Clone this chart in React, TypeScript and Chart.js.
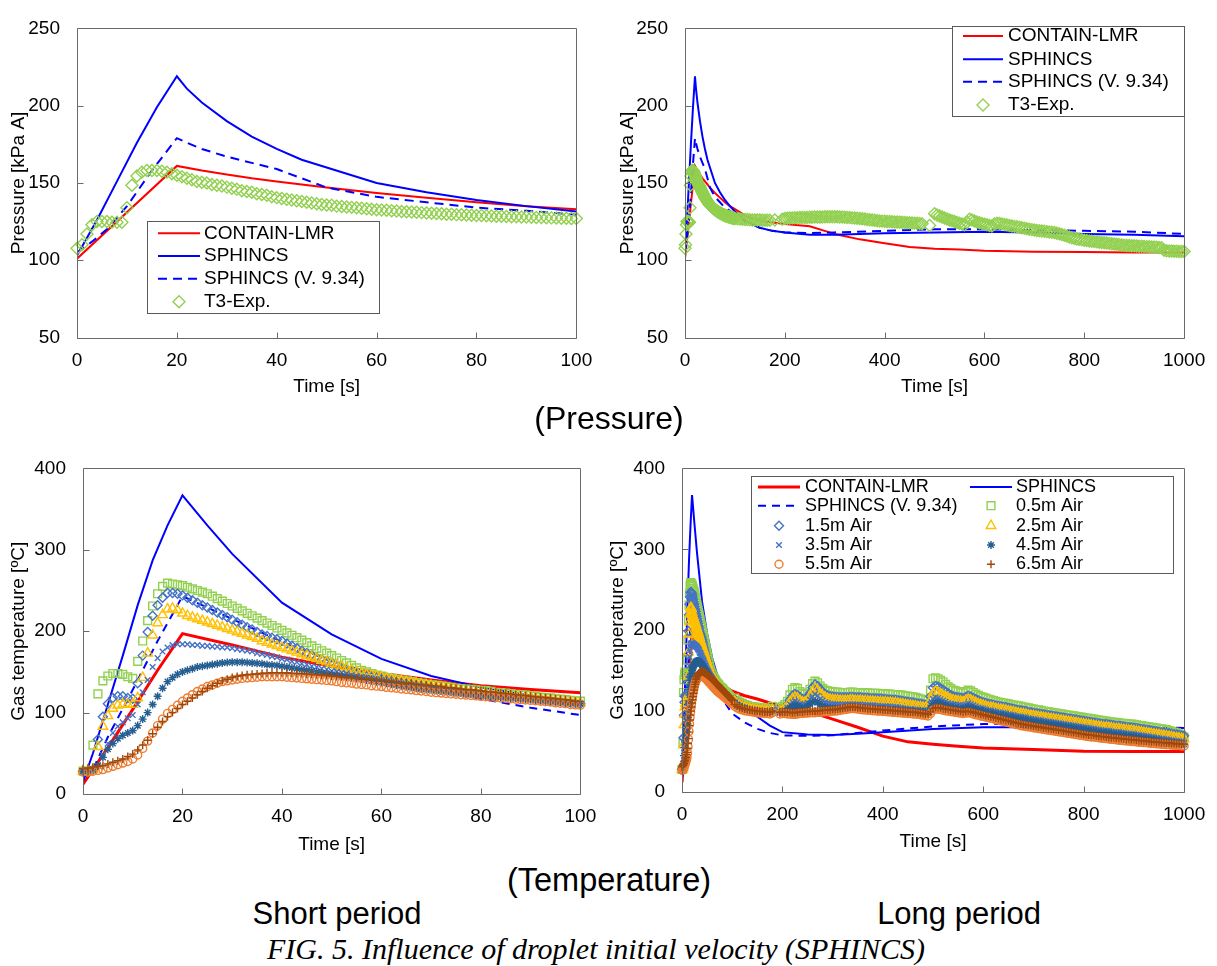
import React, { useEffect, useRef } from "react";
import { Chart, registerables } from "chart.js";
import { drawPoint } from "chart.js/helpers";

Chart.register(...registerables);

const FONT = "'Liberation Sans', Arial, sans-serif";

// ---------- time grids ----------
const T_SHORT = [0,1,2,3,4,5,6,7,8,9,10,11,12,13,14,15,16,17,18,19,20,21,22,23,24,25,26,27,28,29,30,31,32,33,34,35,36,37,38,39,40,41,42,43,44,45,46,47,48,49,50,51,52,53,54,55,56,57,58,59,60,61,62,63,64,65,66,67,68,69,70,71,72,73,74,75,76,77,78,79,80,81,82,83,84,85,86,87,88,89,90,91,92,93,94,95,96,97,98,99,100];
const T_TAIL = [105,110,115,120,125,130,135,140,145,150,155,160,165,170,175,180,185,190,195,200,
  205,210,215,220,225,230,235,240,245,250,255,260,265,270,275,280,285,290,295,300,
  305,310,315,320,325,330,335,340,345,350,355,360,365,370,375,380,385,390,395,400,
  405,410,415,420,425,430,435,440,445,450,455,460,465,470,475,480,485,490,495,500,
  505,510,515,520,525,530,535,540,545,550,555,560,565,570,575,580,585,590,595,600,
  605,610,615,620,625,630,635,640,645,650,655,660,665,670,675,680,685,690,695,700,
  705,710,715,720,725,730,735,740,745,750,755,760,765,770,775,780,785,790,795,800,
  805,810,815,820,825,830,835,840,845,850,855,860,865,870,875,880,885,890,895,900,
  905,910,915,920,925,930,935,940,945,950,955,960,965,970,975,980,985,990,995,1000];

// ---------- pressure (kPa A) ----------
const P_RED_T = [0,20,25,30,35,40,45,50,60,70,80,90,100,125,150,200,250,275,300,350,400,450,500,550,600,700,800,900,1000];
const P_RED_V = [101,161,158,155.5,153,151,149,147,143.5,140.5,137.5,135,133,128,125.5,123.5,122,119.5,117,113.5,111,108.5,107.5,107,106.2,105.5,105.3,105,105];
const P_BLUE_T = [0,4,8,12,16,20,22,25,30,35,40,45,50,60,70,80,90,100,125,150,175,200,250,300,400,500,600,700,800,900,1000];
const P_BLUE_V = [103,126,151,176,199,219,211,202,190,180,172,165,160,150,144,139,135,131.5,125,121,119,118,116.5,116.5,117.5,118,118.5,118,117,116.5,115.5];
const P_DASH_T = [0,3,6,10,15,20,22,25,30,35,40,45,50,55,60,70,80,90,100,125,150,175,200,250,300,400,500,600,700,800,900,1000];
const P_DASH_V = [105,112,120,135,158,179,176,172,167,163,159,153,147,144,141,137.5,134,132,129.5,124.5,121,119,118,117.5,118,119,120,120,119.5,119,118.5,117];

const P_EXP_SHORT = [107.7,110,117,123,125,125,125,124.5,124.5,124.5,134,
  148.5,154.5,157,158,158,158,157.5,157,156,155,
  154,153,152,151,150.5,150,149,148.5,148,147.3,
  146.5,146,145,144.5,144,143,142.5,142,141,140.5,
  140,139.5,139,138.5,138,137.5,137,136.5,136,135.8,
  135.5,135,134.8,134.5,134.2,134,133.6,133.3,133,132.7,
  132.5,132.3,132,131.8,131.6,131.4,131.2,131,130.8,130.6,
  130.4,130.2,130,129.8,129.7,129.5,129.4,129.2,129.1,129,
  128.9,128.7,128.6,128.5,128.4,128.3,128.2,128.1,128,127.9,
  127.8,127.7,127.6,127.5,127.4,127.3,127.2,127.1,127,127];
const P_EXP_TAIL = [126.8,126.6,126.5,126.4,126.3,126.2,126.1,126,126,126,125.9,125.9,125.8,125.8,null,126,null,null,126.5,127,
  127.2,127.3,127.4,127.5,127.5,127.6,127.6,127.7,127.7,127.8,127.8,127.9,127.9,128,128,128.1,128.1,128.2,128.2,128.2,
  128.1,128,127.9,127.8,127.7,127.6,127.4,127.3,127.2,127,126.8,126.6,126.4,126.2,126,125.8,125.6,125.4,125.3,125.2,
  125.1,125,124.9,124.8,124.7,124.6,124.5,124.4,124.3,124.2,124.1,124,123.9,123.8,123.6,null,null,122.5,null,130,
  129.3,128.6,128,127.3,126.7,126.1,125.5,125,124.4,123.9,123.4,123,124.5,126.5,126,125.4,124.8,124.3,123.8,123.3,
  122.9,122.5,122.2,123.4,124,123.7,123.4,123.1,122.8,122.5,122.2,121.9,121.6,121.3,121,120.7,120.4,120.1,119.8,119.5,
  119.3,119.1,118.9,118.7,118.5,118.3,118.1,117.9,117.5,117.1,116.6,116.1,115.6,115.1,114.6,114.2,113.8,113.5,113.2,112.9,
  112.7,112.5,112.3,112.1,111.9,111.7,111.5,111.3,111.1,110.9,110.7,110.5,110.3,110.1,109.9,109.7,109.6,109.5,109.4,109.3,
  109.2,109.1,109,108.9,108.8,108.7,108.6,108.5,108.4,108.3,108,106.5,106.2,106,105.9,105.8,105.8,105.7,105.7,105.7];

// ---------- temperature (ºC) lines ----------
const T_RED_T = [0,5,10,15,20,30,40,50,60,70,80,90,100,125,150,175,200,225,250,275,300,350,400,450,500,550,600,700,800,900,1000];
const T_RED_V = [12,57,104,152,197,183,168,157,148,140,133,128.5,124.5,119,115,110,106,103,100,95,90,80,69,62,59,56.5,54.5,52.5,50.5,50,50];
const T_BLUE_T = [0,2,5,8,11,14,17,20,25,30,40,50,60,70,80,90,100,125,150,175,200,250,300,350,400,500,600,700,800,900,1000];
const T_BLUE_V = [15,50,110,170,232,287,330,367,330,295,235,196,166,145,131,121,112,103,93,82,74,71,70.5,72,74,78,80,80,78,76,74];
const T_DASH_T = [0,2,5,10,15,20,30,40,50,60,70,80,90,100,125,150,175,200,250,300,400,500,600,700,800,900,1000];
const T_DASH_V = [20,30,70,128,188,243,215,187,163,145,130,117,106,97,86,78,73,70,69.5,70,76,81,84,85,83,81,79];

// ---------- temperature markers, short period (t = 0..100 s) ----------
const AIR05_S = [28,28,60,123,139,145,148,148,147,144,142,
  163,188,213,231,246,255,259,258,257,256,
  254,252,250,248,246,243,240,237,234,231,
  228,225,222,219,216,213,210,207,204,201,
  198,195,192,189,186,182,179,176,173,170,
  167,164,161,158,155,152,150,148,146,145,
  143,142,141,140,139,138,137,136,135,134,
  133.5,133,132,131,130,129.5,129,128.5,128,127.5,
  127,126,125,124.5,124,123,122.5,122,121.5,121,
  120,119,118.5,118,117,116.5,116,115,114.5,114];
const AIR15_S = [28,28,30,67,95,111,118,120,120,118,117,
  136,170,199,219,232,241,247,247,246,244,
  241,238,235,232,229,226,223,220,217,214,
  211,208,205,202,199,196,194,192,190,188,
  185,182,179,176,173,170,167,165,163,161,
  158,155,153,151,149,147,145,144,143,142,
  140,139,138,137,136,135,134,133,132,131,
  130,129,128.5,128,127,126.5,126,125,124.5,124,
  123,122.5,122,121,120.5,120,119.5,119,118.5,118,
  117,116.5,116,115,114.5,114,113,112.5,112,111];
const AIR25_S = [28,28,30,58,83,96,105,109,110,110,110,
  118,143,173,195,210,220,227,228,226,222,
  219,217,215,213,211,209,207,205,203,201,
  199,197,195,193,191,188,186,184,182,180,
  178,176,174,172,170,168,166,164,162,160,
  158,156,154,152,150,148,147,146,145,144,
  142,141,140,139,138,137,136,135,134,133,
  132,131,130,129,128,127,126,125.5,125,124,
  123,122.5,122,121,120.5,120,119.5,119,118.5,118,
  117,116.5,116,115,114.5,114,113.5,113,112.5,112];
const AIR35_S = [28,28,30,35,48,62,75,83,88,93,97,
  110,125,140,156,167,175,180,183,184,184,
  184,183,183,182,182,181,181,180,180,179,
  178,177,176,175,173,172,171,169,168,166,
  165,163,162,160,159,157,156,154,153,151,
  150,149,148,146,145,144,143,142,141,140,
  139,138,137,136,135,134,133,132,131,130,
  129,128,127.5,127,126,125.5,125,124,123.5,123,
  122,121.5,121,120,119.5,119,118.5,118,117,116.5,
  116,115.5,115,114.5,114,113,112.5,112,111.5,111];
const AIR45_S = [28,28,30,35,45,55,62,68,72,75,78,
  84,92,100,110,120,130,138,143,147,150,
  152,154,156,157,158,159,160,161,161.5,162,
  162,162,161.5,161,160.5,160,159,158.5,158,157,
  156,155,154,153,152,151,150,149,148,147,
  146,145,144,143,142,141,140,139,138,137,
  136,135,134,133,132,131,130,129,128.5,128,
  127,126.5,126,125,124.5,124,123,122.5,122,121,
  120.5,120,119.5,119,118.5,118,117.5,117,116.5,116,
  115.5,115,114.5,114,113.5,113,112.5,112,111.5,111];
const AIR55_S = [27,27,28,29,30,32,34,36,38,40,43,
  48,56,65,75,84,92,99,104,109,114,
  118,122,126,129,132,134,136,138,139,140,
  141,142,142.5,143,143.5,144,144,144,144,144,
  143.5,143,142.5,142,141.5,141,140.5,140,139.5,139,
  138,137,136.5,136,135,134.5,134,133,132.5,132,
  131,130.5,130,129,128.5,128,127,126.5,126,125,
  124.5,124,123.5,123,122.5,122,121.5,121,120.5,120,
  119.5,119,118.5,118,117.5,117,116.5,116,115.5,115,
  114.5,114,113.5,113,112,111.5,111,110,109.5,109];
const AIR65_S = [31,32,33,34,35,37,39,41,43,46,49,
  54,60,66,74,82,89,95,100,105,110,
  114,118,122,126,130,133,136,139,141,143,
  144.5,145.5,146.5,147,147.5,148,148.5,149,149,149,
  149,148.5,148,148,147.5,147,146.5,146,145.5,145,
  144.5,144,143.5,143,142.5,142,141.5,141,140.5,140,
  139,138.5,138,137,136.5,136,135,134.5,134,133,
  132.5,132,131,130.5,130,129,128.5,128,127.5,127,
  126,125.5,125,124,123.5,123,122,121.5,121,120,
  119.5,119,118.5,118,117,116.5,116,115,114,113.5];

// ---------- temperature markers, long period tail (t = 105..1000 s, every 5 s) ----------
const AIR05_L = [116,113,111,109.5,108,107,106,105.5,105,104.5,104,104,103.5,103.5,103,106,null,null,104,106,
  108,112,120,127,129,128,124,122,121,122,127,134,137,135,131,128,126,125,124.5,124,
  123.5,123.5,123,123,123,123,123.5,123.5,123,123,123,122.5,122.5,122.5,122,122,122,122,121.5,121.5,
  121.5,121,121,120.5,120.5,120,120,119.5,119,118.5,118,117.5,117,116,115,114.5,114,113,126,140,
  141,140,138,136,133,130,128,126,125,124,123,122.5,124,126,125,123,121,119.5,118,117,
  116,115,114,113,112,111,110.5,110,109.5,109,108,107.5,107,106.5,106,105,104.5,104,103,102.5,
  102,101.5,101,100,99.5,99,98.5,98,97.5,97,96.5,96,95.5,95,94.5,94,93.5,93,92.5,92,
  91.5,91,90.5,90,89.5,89,88.5,88,87.5,87,86.5,86,86,85.5,85,85,84.5,84,84,83.5,
  83,82.5,82,81.5,81,80.5,80,79.5,79,78.5,78,77.5,77,76,75,74,73,72,70,68];
const AIR15_L = [114,111,109,107.5,106,105,104,103.5,103,102.5,102,102,101.5,101.5,101,103,null,null,101,102,
  104,108,114,119,121,120,117,115,115,117,122,129,133,131,127,124,121,119.5,118.5,118,
  117.5,117.5,117,117,117,117,117.5,117.5,117,117,117,116.5,116.5,116.5,116,116,116,115.5,115.5,115,
  115,114.5,114.5,114,114,113.5,113,112.5,112,111.5,111,110.5,110,109.5,109,108.5,108,107,118,129,
  131,130,128,126,124,122,120,118.5,117.5,117,116.5,116,117.5,119,118,116.5,115,113.5,112,111,
  110,109,108.5,108,107,106.5,106,105.5,105,104,103.5,103,102,101.5,101,100.5,100,99,98.5,98,
  97.5,97,96.5,96,95.5,95,94.5,94,93.5,93,92.5,92,91.5,91,90.5,90,89.5,89,88.5,88,
  87.5,87,86.5,86,85.5,85,84.5,84,84,83.5,83,82.5,82,82,81.5,81,80.5,80,80,79.5,
  79,78.5,78,77.5,77,76.5,76,75.5,75,74.5,74,73.5,73,72.5,72,71.5,71,70.5,70,69.5];
const AIR25_L = [112,109.5,107.5,106,105,104,103,102.5,102,101.5,101,101,100.5,100.5,100,102,null,null,100,101,
  103,106,111,115,117,116,113,111,111,113,118,124,128,126,122,119,117,115.5,114.5,114,
  113.5,113.5,113,113,113,113,113.5,113.5,113,113,113,112.5,112.5,112,112,112,111.5,111.5,111,111,
  111,110.5,110.5,110,110,109.5,109,108.5,108,107.5,107,106.5,106,105.5,105,104.5,104,103.5,113,122,
  124,123,121,119,117.5,116,114.5,113.5,113,112.5,112,111.5,113,114.5,113.5,112,110.5,109,108,107,
  106,105,104.5,104,103,102.5,102,101.5,101,100,99.5,99,98,97.5,97,96.5,96,95,94.5,94,
  93.5,93,92.5,92,91.5,91,90.5,90,89.5,89,88.5,88,87.5,87,86.5,86,85.5,85,84.5,84,
  83.5,83,82.5,82,81.5,81,80.5,80,80,79.5,79,78.5,78,78,77.5,77,76.5,76,76,75.5,
  75,74.5,74,73.5,73,72.5,72,71.5,71,70.5,70,69.5,69,68.5,68,67.5,67,66.5,66,65.5];
const AIR35_L = [111,108.5,106.5,105,104,103,102,101.5,101,100.5,100,100,99.5,99.5,99,101,null,null,99,100,
  101,104,108,111,112,111,109,108,108,110,114,118,121,119,115,113,111,110,109,108.5,
  108.5,108.5,108,108,108,108,108.5,108.5,108,108,108,107.5,107.5,107,107,107,106.5,106.5,106,106,
  106,105.5,105.5,105,105,104.5,104,103.5,103,102.5,102.5,102,102,101.5,101,101,100.5,100,108,115,
  117,116,114.5,113,111.5,110,109,108.5,108,107.5,107,107,108,109.5,108.5,107,106,104.5,103.5,103,
  102,101,100.5,100,99,98.5,98,97.5,97,96,95.5,95,94,93.5,93,92.5,92,91,90.5,90,
  89.5,89,88.5,88,87.5,87,86.5,86,85.5,85,84.5,84,83.5,83,82.5,82,81.5,81,80.5,80,
  79.5,79,78.5,78,77.5,77,76.5,76,76,75.5,75,74.5,74,74,73.5,73,72.5,72,72,71.5,
  71,70.5,70,69.5,69,68.5,68,67.5,67,66.5,66,65.5,65,64.5,64,63.5,63,62.5,62,61.5];
const AIR45_L = [110,107.5,105.5,104,103,102,101,100.5,100,99.5,99,99,98.5,98.5,98,100,null,null,98,99,
  99.5,101,104,106,107,106.5,105,104,104,106,109,111,112,111,108,106,105,104,103.5,103.5,
  103.5,103.5,103.5,103.5,104,104,104,104,104,104,103.5,103.5,103.5,103,103,103,103,102.5,102.5,102.5,
  102,102,101.5,101.5,101,101,100.5,100.5,100,100,99.5,99.5,99,99,98.5,98.5,98,97.5,104,109,
  111,110.5,109.5,108,107,106,105,104.5,104,103.5,103,103,104,105,104.5,103.5,102.5,101.5,100.5,100,
  99,98,97.5,97,96,95.5,95,94.5,94,93,92.5,92,91,90.5,90,89.5,89,88,87.5,87,
  86.5,86,85.5,85,84.5,84,83.5,83,82.5,82,81.5,81,80.5,80,79.5,79,78.5,78,77.5,77,
  76.5,76,75.5,75,74.5,74,73.5,73,73,72.5,72,71.5,71,71,70.5,70,69.5,69,69,68.5,
  68,67.5,67,66.5,66,65.5,65,64.5,64,63.5,63,62.5,62,61.5,61,60.5,60,60,59.5,59];
const AIR55_L = [106,104,102.5,101.5,100.5,100,99.5,99,98.5,98,97.5,97.5,97,97,96.5,98,null,null,96.5,97,
  97,96.5,96.5,96,96,96.5,97,97,97.5,97.5,98,98,98,98.5,98.5,99,99,99.5,99.5,100,
  100,100.5,101,101.5,102,102.5,103,103,103,102.5,102,101.5,101.5,101,101,100.5,100.5,100,100,99.5,
  99.5,99,99,98.5,98.5,98,98,97.5,97.5,97,97,96.5,96.5,96,95.5,95,94.5,94,97,101,
  102.5,102.5,102,101,100.5,100,99.5,99,98.5,98,97.5,97,97.5,98,97.5,96.5,95.5,95,94,93.5,
  92.5,92,91,90.5,89.5,89,88,87.5,86.5,86,85,84.5,83.5,83,82,81.5,81,80.5,80,79.5,
  79,78.5,78,77.5,77,76.5,76,75.5,75,74.5,74,73.5,73,72.5,72,71.5,71,70.5,70,69.5,
  69,68.5,68,68,67.5,67,66.5,66.5,66,65.5,65,65,64.5,64,64,63.5,63,63,62.5,62.5,
  62,61.5,61.5,61,61,60.5,60,60,59.5,59.5,59,59,58.5,58.5,58,58,57.5,57.5,57,57];
const AIR65_L = [108,106,104.5,103.5,102.5,102,101.5,101,100.5,100,99.5,99.5,99,99,98.5,100,null,null,98.5,99,
  99,98.5,98.5,98,98,98.5,99,99,99.5,99.5,100,100,100,100.5,100.5,101,101,101.5,101.5,102,
  102,102.5,103,103.5,104,104.5,105,105,105,104.5,104,103.5,103.5,103,103,102.5,102.5,102,102,101.5,
  101.5,101,101,100.5,100.5,100,100,99.5,99.5,99,99,98.5,98.5,98,97.5,97,96.5,96,99,103,
  104.5,104.5,104,103,102.5,102,101.5,101,100.5,100,99.5,99,99.5,100,99.5,98.5,97.5,97,96,95.5,
  94.5,94,93,92.5,91.5,91,90,89.5,88.5,88,87,86.5,85.5,85,84,83.5,83,82.5,82,81.5,
  81,80.5,80,79.5,79,78.5,78,77.5,77,76.5,76,75.5,75,74.5,74,73.5,73,72.5,72,71.5,
  71,70.5,70,70,69.5,69,68.5,68.5,68,67.5,67,67,66.5,66,66,65.5,65,65,64.5,64.5,
  64,63.5,63.5,63,63,62.5,62,62,61.5,61.5,61,61,60.5,60.5,60,60,59.5,59.5,59,59];

// ---------- labels & ticks ----------
const P_X_SHORT = { min: 0, max: 100, step: 20 };
const P_X_LONG = { min: 0, max: 1000, step: 200 };
const P_Y = { min: 50, max: 250, step: 50 };
const T_Y = { min: 0, max: 400, step: 100 };
const X_TITLE = "Time [s]";
const P_Y_TITLE = "Pressure [kPa A]";
const T_Y_TITLE = "Gas temperature [ºC]";
const S_RED = "CONTAIN-LMR";
const S_BLUE = "SPHINCS";
const S_DASH = "SPHINCS (V. 9.34)";
const S_EXP = "T3-Exp.";
const AIR_NAMES = ["0.5m Air", "1.5m Air", "2.5m Air", "3.5m Air", "4.5m Air", "5.5m Air", "6.5m Air"];

const RED = "#FF0000";
const BLUE = "#0000FF";
const GREEN = "#92D050";
const TICK_SIZE = 19;
const TITLE_SIZE = 19;

const pts = (ts: number[], vs: (number | null)[]) => ts.map((t, i) => ({ x: t, y: vs[i] }));

function lineDs(label: string, ts: number[], vs: number[], color: string, width: number, dash: number[], idx: number) {
  return {
    label, data: pts(ts, vs), borderColor: color, backgroundColor: color, borderWidth: width,
    borderDash: dash, pointRadius: 0, pointHoverRadius: 0, showLine: true, fill: false, tension: 0, order: -idx,
  };
}
function markDs(label: string, ts: number[], vs: (number | null)[], color: string, style: string, r: number, idx: number) {
  return {
    label, data: pts(ts, vs), showLine: false, pointStyle: style, pointRadius: r, pointHoverRadius: r,
    pointBorderColor: color, pointBackgroundColor: "rgba(0,0,0,0)", pointBorderWidth: 1.4,
    borderColor: color, backgroundColor: "rgba(0,0,0,0)", borderWidth: 1.4, clip: false, order: -idx,
  };
}

const framePlugin = {
  id: "frame",
  afterDatasetsDraw(chart: any) {
    const { ctx, chartArea: a, scales } = chart;
    const x = scales.x, y = scales.y;
    const L = Math.round(a.left) + 0.5, R = Math.round(a.right) + 0.5;
    const T = Math.round(a.top) + 0.5, B = Math.round(a.bottom) + 0.5;
    ctx.save();
    ctx.strokeStyle = "#6a6a6a";
    ctx.lineWidth = 1;
    ctx.beginPath();
    ctx.rect(L, T, R - L, B - T);
    x.ticks.forEach((t: any) => {
      const px = Math.round(x.getPixelForValue(t.value)) + 0.5;
      ctx.moveTo(px, B); ctx.lineTo(px, B - 6);
    });
    y.ticks.forEach((t: any) => {
      const py = Math.round(y.getPixelForValue(t.value)) + 0.5;
      ctx.moveTo(L, py); ctx.lineTo(L + 6, py);
    });
    ctx.stroke();
    ctx.restore();
  },
};

const boxLegendPlugin = {
  id: "boxLegend",
  afterDraw(chart: any, _args: any, opts: any) {
    if (!opts || !opts.items) return;
    const ctx = chart.ctx;
    const [bx, by, bw, bh] = opts.box;
    ctx.save();
    ctx.fillStyle = "#ffffff";
    ctx.fillRect(bx, by, bw, bh);
    ctx.strokeStyle = "#5a5a5a";
    ctx.lineWidth = 1;
    ctx.strokeRect(Math.round(bx) + 0.5, Math.round(by) + 0.5, Math.round(bw), Math.round(bh));
    ctx.font = `${opts.fontSize}px ${FONT}`;
    ctx.textBaseline = "middle";
    ctx.textAlign = "left";
    for (const it of opts.items) {
      const ds = chart.data.datasets[it.ds];
      if (ds.showLine === false) {
        ctx.strokeStyle = ds.pointBorderColor;
        ctx.fillStyle = "rgba(0,0,0,0)";
        ctx.lineWidth = ds.pointBorderWidth;
        ctx.setLineDash([]);
        drawPoint(ctx, { pointStyle: ds.pointStyle, radius: ds.pointRadius, borderWidth: ds.pointBorderWidth, rotation: 0 } as any, (it.x1 + it.x2) / 2, it.y);
      } else {
        ctx.beginPath();
        ctx.setLineDash(ds.borderDash || []);
        ctx.lineWidth = ds.borderWidth;
        ctx.strokeStyle = ds.borderColor;
        ctx.moveTo(it.x1, it.y);
        ctx.lineTo(it.x2, it.y);
        ctx.stroke();
        ctx.setLineDash([]);
      }
      ctx.fillStyle = "#000";
      ctx.fillText(ds.label, it.tx, it.y);
    }
    ctx.restore();
  },
};

type PanelCfg = {
  datasets: any[];
  xr: { min: number; max: number; step: number };
  yr: { min: number; max: number; step: number };
  yTitle: string;
  yW: number; xH: number; padR: number; padT: number;
  yTitlePad: number; xTitlePad: number;
  legend: any;
};

function makeConfig(c: PanelCfg): any {
  return {
    type: "line",
    data: { datasets: c.datasets },
    plugins: [framePlugin, boxLegendPlugin],
    options: {
      animation: false,
      responsive: false,
      maintainAspectRatio: false,
      events: [],
      layout: { padding: { left: 0, right: c.padR, top: c.padT, bottom: 0 } },
      plugins: { legend: { display: false }, tooltip: { enabled: false }, boxLegend: c.legend },
      scales: {
        x: {
          type: "linear", min: c.xr.min, max: c.xr.max,
          ticks: { stepSize: c.xr.step, color: "#000", font: { family: FONT, size: TICK_SIZE }, padding: 11.8, maxRotation: 0, autoSkip: false, callback: (v: any) => String(v) },
          grid: { display: false, drawTicks: false },
          border: { display: false },
          title: { display: true, text: X_TITLE, color: "#000", font: { family: FONT, size: TITLE_SIZE, lineHeight: 1 }, padding: { top: 0, bottom: c.xTitlePad } },
          afterFit: (s: any) => { s.height = c.xH; },
        },
        y: {
          type: "linear", min: c.yr.min, max: c.yr.max,
          ticks: { stepSize: c.yr.step, color: "#000", font: { family: FONT, size: TICK_SIZE }, padding: 17, callback: (v: any) => String(v) },
          grid: { display: false, drawTicks: false },
          border: { display: false },
          title: { display: true, text: c.yTitle, color: "#000", font: { family: FONT, size: TITLE_SIZE, lineHeight: 1 }, padding: { top: c.yTitlePad, bottom: 0 } },
          afterFit: (s: any) => { s.width = c.yW; },
        },
      },
    },
  };
}

function Panel(props: { left: number; top: number; width: number; height: number; cfg: () => any }) {
  const ref = useRef<HTMLCanvasElement>(null);
  useEffect(() => {
    const chart = new Chart(ref.current as HTMLCanvasElement, props.cfg());
    return () => chart.destroy();
  }, []);
  return (
    <canvas
      ref={ref}
      width={props.width}
      height={props.height}
      style={{ position: "absolute", left: props.left, top: props.top, width: props.width, height: props.height }}
    />
  );
}

const T_ALL = T_SHORT.concat(T_TAIL);

function pressureDatasets(long: boolean) {
  return [
    lineDs(S_RED, P_RED_T, P_RED_V, RED, 2, [], 0),
    lineDs(S_BLUE, P_BLUE_T, P_BLUE_V, BLUE, 2, [], 1),
    lineDs(S_DASH, P_DASH_T, P_DASH_V, BLUE, 2, [9, 6], 2),
    long
      ? markDs(S_EXP, T_ALL, (P_EXP_SHORT as (number | null)[]).concat(P_EXP_TAIL), GREEN, "rectRot", 6, 3)
      : markDs(S_EXP, T_SHORT, P_EXP_SHORT, GREEN, "rectRot", 6, 3),
  ];
}

const AIR_STYLE = [
  { c: "#92D050", s: "rect", r: 5.5 },
  { c: "#4472C4", s: "rectRot", r: 4.5 },
  { c: "#FFC000", s: "triangle", r: 5.5 },
  { c: "#4472C4", s: "crossRot", r: 4 },
  { c: "#255E91", s: "star", r: 4 },
  { c: "#ED7D31", s: "circle", r: 4 },
  { c: "#9E480E", s: "cross", r: 4 },
];
const AIR_SHORT = [AIR05_S, AIR15_S, AIR25_S, AIR35_S, AIR45_S, AIR55_S, AIR65_S];
const AIR_LONG = [AIR05_L, AIR15_L, AIR25_L, AIR35_L, AIR45_L, AIR55_L, AIR65_L];

function tempDatasets(long: boolean) {
  const ds: any[] = [
    lineDs(S_RED, T_RED_T, T_RED_V, RED, 3, [], 0),
    lineDs(S_BLUE, T_BLUE_T, T_BLUE_V, BLUE, 2, [], 1),
    lineDs(S_DASH, T_DASH_T, T_DASH_V, BLUE, 2, [8, 6], 2),
  ];
  AIR_NAMES.forEach((name, i) => {
    const st = AIR_STYLE[i];
    const vals = long ? (AIR_SHORT[i] as (number | null)[]).concat(AIR_LONG[i]) : AIR_SHORT[i];
    ds.push(markDs(name, long ? T_ALL : T_SHORT, vals, st.c, st.s, st.r, 3 + i));
  });
  return ds;
}

const cfgP1 = () => makeConfig({
  datasets: pressureDatasets(false), xr: P_X_SHORT, yr: P_Y, yTitle: P_Y_TITLE,
  yW: 77, xH: 62.5, padR: 24, padT: 17.5, yTitlePad: 9.5, xTitlePad: 3.8,
  legend: {
    box: [147, 221, 232, 92], fontSize: 19,
    items: [
      { ds: 0, x1: 158, x2: 200, tx: 204, y: 233.3 },
      { ds: 1, x1: 158, x2: 200, tx: 204, y: 256 },
      { ds: 2, x1: 158, x2: 200, tx: 204, y: 278.7 },
      { ds: 3, x1: 158, x2: 200, tx: 204, y: 301.7 },
    ],
  },
});

const cfgP2 = () => makeConfig({
  datasets: pressureDatasets(true), xr: P_X_LONG, yr: P_Y, yTitle: P_Y_TITLE,
  yW: 81, xH: 62.5, padR: 27, padT: 17.5, yTitlePad: 14.2, xTitlePad: 3.8,
  legend: {
    box: [348, 26, 232, 90], fontSize: 19,
    items: [
      { ds: 0, x1: 359, x2: 399, tx: 404, y: 36 },
      { ds: 1, x1: 359, x2: 399, tx: 404, y: 59.3 },
      { ds: 2, x1: 359, x2: 399, tx: 404, y: 81.7 },
      { ds: 3, x1: 359, x2: 399, tx: 404, y: 105 },
    ],
  },
});

const cfgP3 = () => makeConfig({
  datasets: tempDatasets(false), xr: P_X_SHORT, yr: T_Y, yTitle: T_Y_TITLE,
  yW: 83, xH: 66, padR: 17, padT: 28, yTitlePad: 9.5, xTitlePad: 6,
  legend: null,
});

const cfgP4 = () => makeConfig({
  datasets: tempDatasets(true), xr: P_X_LONG, yr: T_Y, yTitle: T_Y_TITLE,
  yW: 74, xH: 68, padR: 30, padT: 27, yTitlePad: 0.3, xTitlePad: 8.8,
  legend: {
    box: [143, 36, 422, 97], fontSize: 18,
    items: [
      { ds: 0, x1: 150, x2: 192, tx: 197, y: 47 },
      { ds: 1, x1: 362, x2: 404, tx: 408, y: 47 },
      { ds: 2, x1: 150, x2: 192, tx: 197, y: 65.7 },
      { ds: 3, x1: 362, x2: 404, tx: 408, y: 65.7 },
      { ds: 4, x1: 150, x2: 192, tx: 197, y: 85.7 },
      { ds: 5, x1: 362, x2: 404, tx: 408, y: 85.7 },
      { ds: 6, x1: 150, x2: 192, tx: 197, y: 105 },
      { ds: 7, x1: 362, x2: 404, tx: 408, y: 105 },
      { ds: 8, x1: 150, x2: 192, tx: 197, y: 124.3 },
      { ds: 9, x1: 362, x2: 404, tx: 408, y: 124.3 },
    ],
  },
});

const txt = (cx: number, cy: number, size: number, extra: any = {}) => ({
  position: "absolute" as const,
  left: cx - 400,
  top: cy - size * 0.6,
  width: 800,
  height: size * 1.2,
  lineHeight: `${size * 1.2}px`,
  textAlign: "center" as const,
  fontFamily: FONT,
  fontSize: size,
  color: "#000",
  whiteSpace: "nowrap" as const,
  ...extra,
});

export default function App() {
  return (
    <div style={{ position: "absolute", left: 0, top: 0, width: 1217, height: 966, background: "#fff", overflow: "hidden" }}>
      <Panel left={0} top={0} width={604} height={400} cfg={cfgP1} />
      <Panel left={604} top={0} width={613} height={400} cfg={cfgP2} />
      <Panel left={0} top={440} width={608} height={420} cfg={cfgP3} />
      <Panel left={608} top={440} width={609} height={420} cfg={cfgP4} />
      <div style={txt(609, 418, 32)}>(Pressure)</div>
      <div style={txt(609, 880, 32.5)}>(Temperature)</div>
      <div style={txt(337, 914, 31)}>Short period</div>
      <div style={txt(959, 914, 31)}>Long period</div>
      <div style={txt(596, 949, 30, { fontFamily: "'Liberation Serif', 'Times New Roman', serif", fontStyle: "italic" })}>
        FIG. 5. Influence of droplet initial velocity (SPHINCS)
      </div>
    </div>
  );
}
